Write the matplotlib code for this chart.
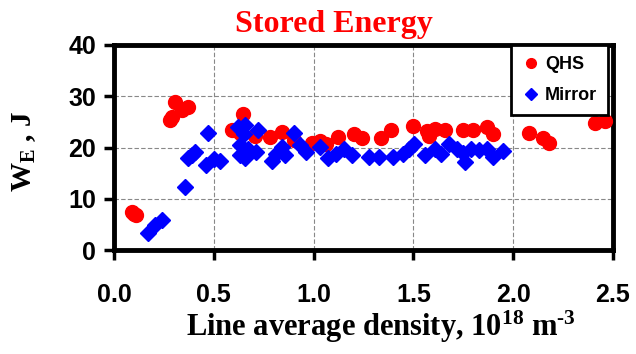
import matplotlib
matplotlib.use('Agg')
import matplotlib.pyplot as plt

# QHS stored energy (J) vs line average density (1e18 m^-3)
qhs_density = [0.09, 0.10, 0.11, 0.28, 0.29, 0.305, 0.34, 0.37, 0.59, 0.63, 0.647, 0.705,
               0.78, 0.84, 0.90, 0.99, 1.03, 1.06, 1.12, 1.20, 1.24, 1.34, 1.39, 1.50,
               1.57, 1.58, 1.61, 1.66, 1.75, 1.80, 1.87, 1.90, 2.08, 2.15, 2.18, 2.41, 2.46]
qhs_energy = [7.5, 7.0, 6.8, 25.3, 26.0, 28.9, 27.3, 27.9, 23.4, 22.8, 26.6, 22.2,
              22.1, 23.1, 21.4, 20.8, 21.2, 20.6, 22.1, 22.6, 21.8, 21.8, 23.4, 24.2,
              23.2, 22.3, 23.6, 23.4, 23.4, 23.4, 24.0, 22.7, 22.9, 21.8, 20.9, 24.8, 25.2]

# Mirror stored energy
mirror_density = [0.17, 0.205, 0.24, 0.355, 0.37, 0.39, 0.405, 0.46, 0.47, 0.50, 0.53,
                  0.62, 0.65, 0.655, 0.63, 0.63, 0.655, 0.67, 0.71, 0.72, 0.79, 0.81,
                  0.84, 0.855, 0.90, 0.93, 0.96, 1.03, 1.07, 1.11, 1.15, 1.19, 1.28,
                  1.33, 1.40, 1.45, 1.48, 1.505, 1.56, 1.61, 1.64, 1.68, 1.72, 1.75,
                  1.76, 1.79, 1.83, 1.87, 1.90, 1.95]
mirror_energy = [3.4, 4.9, 5.8, 12.2, 18.0, 18.5, 19.2, 16.6, 22.9, 17.7, 17.3,
                 24.0, 22.7, 24.3, 20.5, 18.5, 18.0, 19.8, 19.2, 23.4, 17.3, 18.8,
                 20.1, 18.5, 22.9, 20.5, 19.2, 20.1, 17.9, 18.8, 19.8, 18.6, 18.2,
                 18.2, 18.2, 18.7, 19.8, 20.6, 18.5, 19.7, 18.8, 20.7, 19.7, 19.0,
                 17.1, 19.8, 19.5, 19.8, 18.2, 19.3]

x_ticks = [0.0, 0.5, 1.0, 1.5, 2.0, 2.5]
y_ticks = [0, 10, 20, 30, 40]

plt.rcParams['mathtext.fontset'] = 'custom'
plt.rcParams['mathtext.rm'] = 'Liberation Serif:bold'
plt.rcParams['mathtext.it'] = 'Liberation Serif:bold'
plt.rcParams['mathtext.bf'] = 'Liberation Serif:bold'

fig = plt.figure(figsize=(6.36, 3.54), dpi=100)
ax = fig.add_axes([114/636, 1-250/354, 499/636, 205/354])

ax.plot(qhs_density, qhs_energy, 'o', color='#ff0000', markersize=10, label='QHS', zorder=3)
ax.plot(mirror_density, mirror_energy, 'D', color='#0000ff', markersize=8.5, label='Mirror', zorder=4)

ax.set_xlim(0, 2.5)
ax.set_ylim(0, 40)
ax.set_xticks(x_ticks)
ax.set_xticklabels(['%.1f' % v for v in x_ticks])
ax.set_yticks(y_ticks)
ax.set_yticklabels([str(v) for v in y_ticks])

for lab in ax.get_xticklabels() + ax.get_yticklabels():
    lab.set_fontfamily('Liberation Sans')
    lab.set_fontweight('bold')
    lab.set_fontsize(18)

ax.tick_params(direction='out', length=7, width=2.5)
ax.tick_params(axis='x', pad=17)
ax.tick_params(axis='y', pad=6)
for s in ax.spines.values():
    s.set_linewidth(3.5)

ax.grid(True, color='#888888', linestyle=(0, (4, 2)), linewidth=0.8)
ax.set_axisbelow(True)

# title and axis labels
fig.text(334/636, 1-32/354, 'Stored Energy', color='#ff0000', fontfamily='Liberation Serif',
         fontweight='bold', fontsize=23, ha='center', va='baseline')
fig.text(381/636, 1-336/354, r'Line average density, 10$^{18}$ m$^{\text{-3}}$', fontfamily='Liberation Serif',
         fontweight='bold', fontsize=22, ha='center', va='baseline')
fig.text(24/636, 1-151/354, r'W$_{\mathrm{E}}$ , J', fontfamily='Liberation Serif',
         fontweight='bold', fontsize=21, ha='center', va='center', rotation=90)

leg = ax.legend(loc='upper right', bbox_to_anchor=(0.99, 1.0), frameon=True, fancybox=False,
                borderpad=0.6, labelspacing=0.8, handletextpad=0.3, handlelength=1.0,
                markerscale=0.7, borderaxespad=0,
                prop={'family': 'Liberation Sans', 'weight': 'bold', 'size': 13})
leg.get_frame().set_edgecolor('black')
leg.get_frame().set_linewidth(2)
leg.get_frame().set_alpha(1)

fig.savefig('out.png', dpi=100)
